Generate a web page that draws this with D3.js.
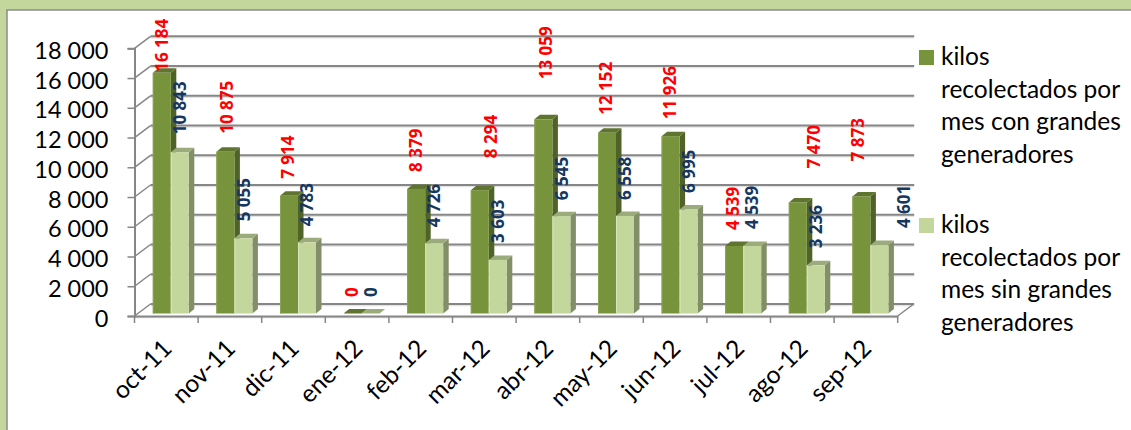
<!DOCTYPE html>
<html lang="es">
<head>
<meta charset="utf-8">
<title>Kilos recolectados por mes</title>
<script src="https://d3js.org/d3.v7.min.js"></script>
<style>
  html, body { margin: 0; padding: 0; background: #c3d69b; }
  svg { display: block; font-family: Lato, sans-serif; }
</style>
</head>
<body>
<script>
var months = ["oct-11", "nov-11", "dic-11", "ene-12", "feb-12", "mar-12", "abr-12", "may-12", "jun-12", "jul-12", "ago-12", "sep-12"];
var conGrandes = [16184, 10875, 7914, 0, 8379, 8294, 13059, 12152, 11926, 4539, 7470, 7873];
var sinGrandes = [10843, 5055, 4783, 0, 4726, 3603, 6545, 6558, 6995, 4539, 3236, 4601];
var legendCon = ["kilos", "recolectados por", "mes con grandes", "generadores"];
var legendSin = ["kilos", "recolectados por", "mes sin grandes", "generadores"];
var yTicks = [0, 2000, 4000, 6000, 8000, 10000, 12000, 14000, 16000, 18000];

// the labels were moved by hand in the original, so they need their own nudges
var conLift = [1, 18, 17, 16.5, 17, 32, 40, 18, 17, 16, 34, 35];
var conShift = [0, 1, -1, -1, 0, 11, 2, -1, -1, -1, 16, -4];
var sinLift = [18, 17, 16, 16.5, 16, 17, 16, 16, 16.5, 17, 17, 17];
var sinShift = [0, 0, 0, 0, 0, 0, 0, 0, 0, 0, 0, 24];

var width = 1131, height = 430;
var wallX = 16, wallY = 12;      // depth of the chart box
var barX = 5.5, barY = 4.5;      // depth of a bar
var barLift = 2.5, barOffset = 18.3;
var gridColor = "#868686";

var es = d3.formatLocale({decimal: ",", thousands: " ", grouping: [3], currency: ["", ""]});
var fmt = es.format(",d");

var x = d3.scaleBand().domain(months).range([134.5, 897.7]);
var x1 = d3.scaleBand().domain([0, 1]).range([0, 36]);
var y = d3.scaleLinear().domain([0, 18000]).range([316, 48.3]);

var svg = d3.select("body").append("svg")
    .attr("width", width)
    .attr("height", height);

svg.append("rect")
    .attr("x", 7).attr("y", 10)
    .attr("width", width).attr("height", height)
    .attr("fill", "#fff")
    .attr("stroke", "#8c8c8c")
    .attr("stroke-width", 1.5);

// back wall lines and the slanted bit on the left
var grid = svg.append("g").attr("fill", "none");
grid.selectAll(".halo").data(yTicks).join("line")
    .attr("x1", x.range()[0] + wallX).attr("x2", x.range()[1] + wallX + 0.5)
    .attr("y1", function(d) { return y(d) - wallY + 1.5; })
    .attr("y2", function(d) { return y(d) - wallY + 1.5; })
    .attr("stroke", "#e4e4e4").attr("stroke-width", 1.5);
grid.selectAll(".back").data(yTicks).join("line")
    .attr("x1", x.range()[0] + wallX).attr("x2", x.range()[1] + wallX + 0.5)
    .attr("y1", function(d) { return y(d) - wallY; })
    .attr("y2", function(d) { return y(d) - wallY; })
    .attr("stroke", gridColor).attr("stroke-width", 2);
grid.selectAll(".slant").data(yTicks).join("line")
    .attr("x1", x.range()[0]).attr("x2", x.range()[0] + wallX)
    .attr("y1", function(d) { return y(d); })
    .attr("y2", function(d) { return y(d) - wallY; })
    .attr("stroke", gridColor).attr("stroke-width", 1.5);

// floor right edge + front edge
svg.append("line")
    .attr("x1", x.range()[1]).attr("x2", x.range()[1] + wallX)
    .attr("y1", y(0)).attr("y2", y(0) - wallY)
    .attr("stroke", gridColor).attr("stroke-width", 1.5);
svg.append("line")
    .attr("x1", x.range()[0]).attr("x2", x.range()[1])
    .attr("y1", y(0) + 1.5).attr("y2", y(0) + 1.5)
    .attr("stroke", "#e0e0e0").attr("stroke-width", 1.5);

var yAxis = d3.axisLeft(y).tickValues(yTicks).tickSize(7).tickPadding(19)
    .tickFormat(function(d) { return fmt(d); });
var yG = svg.append("g").attr("transform", "translate(" + x.range()[0] + ",0)").call(yAxis);
yG.selectAll("line").attr("stroke", gridColor).attr("stroke-width", 1.5);
yG.select(".domain").attr("stroke", gridColor).attr("stroke-width", 2);
yG.selectAll("text")
    .attr("font-family", "Lato, sans-serif")
    .attr("font-size", 23.5)
    .attr("fill", "#000")
    .attr("transform", "translate(0,2.5)");

var xAxis = d3.axisBottom(x).tickSize(0).tickPadding(0);
var xG = svg.append("g").attr("transform", "translate(0," + y(0) + ")").call(xAxis);
xG.select(".domain").attr("stroke", gridColor).attr("stroke-width", 2);
xG.selectAll("text")
    .attr("font-family", "Lato, sans-serif")
    .attr("font-size", 24.5)
    .attr("fill", "#000")
    .attr("text-anchor", "end")
    .attr("dy", null)
    .attr("transform", "translate(7,34) rotate(-45)");

// tick marks sit between the categories
svg.append("g").selectAll("line").data(d3.range(months.length + 1)).join("line")
    .attr("x1", function(i) { return x.range()[0] + i * x.step(); })
    .attr("x2", function(i) { return x.range()[0] + i * x.step(); })
    .attr("y1", y(0)).attr("y2", y(0) + 7)
    .attr("stroke", gridColor).attr("stroke-width", 1.5);

var series = [
  {values: conGrandes, front: "#77933c", top: "#5f752f", side: "#4f6228", edge: "#8aa350"},
  {values: sinGrandes, front: "#c3d69b", top: "#9cab7c", side: "#828e68", edge: "#d8e4bf"}
];

function barLeft(i, s) { return x(months[i]) + barOffset + x1(s); }
function barTop(v) { return y(v) - barLift; }

series.forEach(function(ser, s) {
  var g = svg.append("g").selectAll("g").data(ser.values).join("g");
  var w = x1.bandwidth();
  g.append("polygon")
      .attr("fill", ser.side)
      .attr("points", function(d, i) {
        var l = barLeft(i, s) + w, t = barTop(d), b = y(0) - barLift;
        return [[l, t], [l + barX, t - barY], [l + barX, b - barY], [l, b]].join(" ");
      });
  g.append("polygon")
      .attr("fill", ser.top)
      .attr("points", function(d, i) {
        var l = barLeft(i, s), t = barTop(d);
        return [[l, t], [l + barX, t - barY], [l + w + barX, t - barY], [l + w, t]].join(" ");
      });
  g.append("rect")
      .attr("x", function(d, i) { return barLeft(i, s); })
      .attr("y", function(d) { return barTop(d); })
      .attr("width", w)
      .attr("height", function(d) { return y(0) - y(d); })
      .attr("fill", ser.front);
  g.append("line")
      .attr("x1", function(d, i) { return barLeft(i, s) + 0.5; })
      .attr("x2", function(d, i) { return barLeft(i, s) + 0.5; })
      .attr("y1", function(d) { return barTop(d); })
      .attr("y2", y(0) - barLift)
      .attr("stroke", ser.edge)
      .attr("stroke-width", 1);
});

function addLabels(values, lift, shift, s, color) {
  svg.append("g").selectAll("text").data(values).join("text")
      .attr("transform", function(d, i) {
        var cx = barLeft(i, s) + x1.bandwidth() / 2 + shift[i];
        return "translate(" + cx + "," + (barTop(d) - lift[i]) + ") rotate(-90)";
      })
      .attr("dy", "0.36em")
      .attr("font-family", "'Open Sans', sans-serif")
      .attr("font-size", 17)
      .attr("font-weight", 700)
      .attr("fill", color)
      .text(function(d) { return fmt(d); });
}
addLabels(conGrandes, conLift, conShift, 0, "#ff0000");
addLabels(sinGrandes, sinLift, sinShift, 1, "#17375e");

function addLegend(lines, color, top) {
  var g = svg.append("g");
  g.append("rect")
      .attr("x", 919).attr("y", top)
      .attr("width", 15).attr("height", 15)
      .attr("fill", color);
  g.selectAll("text").data(lines).join("text")
      .attr("x", 941)
      .attr("y", function(d, i) { return top + 15 + i * 32.7; })
      .attr("font-size", 24.5)
      .attr("fill", "#000")
      .text(function(d) { return d; });
}
addLegend(legendCon, series[0].front, 50);
addLegend(legendSin, series[1].front, 218);
</script>
</body>
</html>
